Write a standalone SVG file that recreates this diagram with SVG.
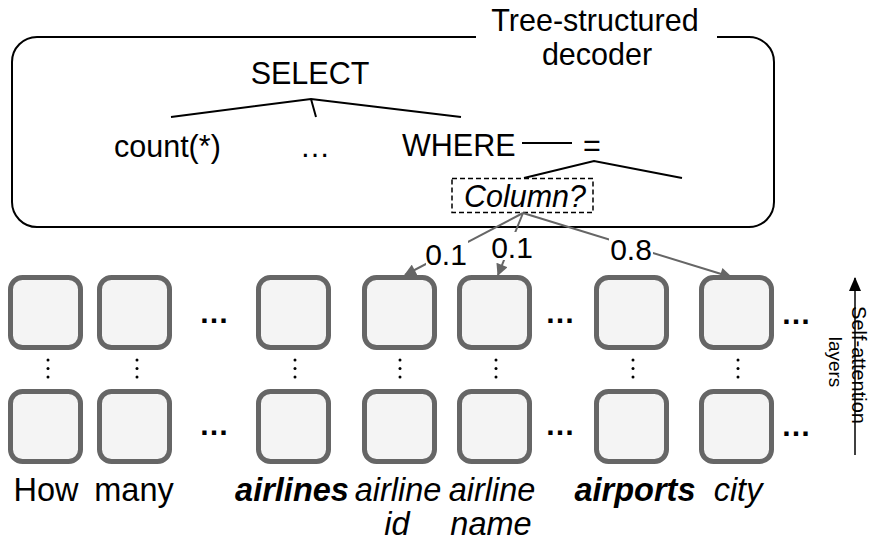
<svg xmlns="http://www.w3.org/2000/svg" width="872" height="546" viewBox="0 0 872 546">
<defs>
<style>
text{font-family:"Liberation Sans",Arial,Helvetica,sans-serif;fill:#000}
.t{font-size:30.5px}
.lbl{font-size:32.5px;text-anchor:middle}
.num{font-size:30px;text-anchor:middle}
.tree{stroke:#000;stroke-width:2;fill:none}
.cell{fill:#f4f4f4;stroke:#666;stroke-width:5}
.att{stroke:#666;stroke-width:2;fill:none;marker-end:url(#ga)}
.dot{fill:#000}
.ell{font-size:30px;text-anchor:middle;font-weight:bold}
</style>
<marker id="ga" viewBox="0 0 10 10" refX="9" refY="5" markerWidth="6.5" markerHeight="6" orient="auto" markerUnits="strokeWidth">
<path d="M0,0 L10,5 L0,10 z" fill="#666"/>
</marker>
<marker id="ka" viewBox="0 0 14 12" refX="13" refY="6" markerWidth="14" markerHeight="12" orient="auto" markerUnits="userSpaceOnUse">
<path d="M0,0 L14,6 L0,12 z" fill="#000"/>
</marker>
</defs>

<g id="decoder">
<path class="tree" d="M476,37 H37 A25,25 0 0 0 12,62 V202 A25,25 0 0 0 37,227 H749 A25,25 0 0 0 774,202 V62 A25,25 0 0 0 749,37 H717"/>
<text class="t" x="595" y="31" text-anchor="middle">Tree-structured</text>
<text class="t" x="597" y="65" text-anchor="middle">decoder</text>
</g>

<g id="select">
<text class="t" x="310" y="84" text-anchor="middle">SELECT</text>
</g>
<g id="count">
<text class="t" x="114" y="157">count(*)</text>
</g>
<g id="dots-mid">
<text class="t" x="315" y="157" text-anchor="middle">…</text>
</g>
<g id="where">
<text class="t" x="402" y="156">WHERE</text>
</g>
<g id="eq">
<text class="t" x="592" y="156" text-anchor="middle">=</text>
</g>
<g id="column">
<rect x="452" y="178.5" width="141" height="34" fill="none" stroke="#000" stroke-width="1.5" stroke-dasharray="5,3"/>
<text class="t" x="525" y="207" text-anchor="middle" font-style="italic">Column?</text>
</g>

<g id="tree-edges">
<path class="tree" d="M171,117 L311,99 L461,117 M311,99 L316,117"/>
<path class="tree" d="M522,143 H572"/>
<path class="tree" d="M524,178 L594,161 L682,178"/>
</g>

<g id="cells">
<g id="r1">
<rect class="cell" x="10.5" y="277.5" width="70" height="70" rx="12"/>
<rect class="cell" x="99.5" y="277.5" width="70" height="70" rx="12"/>
<rect class="cell" x="258.5" y="277.5" width="70" height="70" rx="12"/>
<rect class="cell" x="364.5" y="277.5" width="70" height="70" rx="12"/>
<rect class="cell" x="459.5" y="277.5" width="70" height="70" rx="12"/>
<rect class="cell" x="596.5" y="277.5" width="70" height="70" rx="12"/>
<rect class="cell" x="701.5" y="277.5" width="70" height="70" rx="12"/>
</g>
<g id="r2">
<rect class="cell" x="10.5" y="391.5" width="70" height="70" rx="12"/>
<rect class="cell" x="99.5" y="391.5" width="70" height="70" rx="12"/>
<rect class="cell" x="258.5" y="391.5" width="70" height="70" rx="12"/>
<rect class="cell" x="364.5" y="391.5" width="70" height="70" rx="12"/>
<rect class="cell" x="459.5" y="391.5" width="70" height="70" rx="12"/>
<rect class="cell" x="596.5" y="391.5" width="70" height="70" rx="12"/>
<rect class="cell" x="701.5" y="391.5" width="70" height="70" rx="12"/>
</g>
<g id="hdots">
<text class="ell" x="214" y="323">…</text>
<text class="ell" x="560" y="323">…</text>
<text class="ell" x="796" y="324">…</text>
<text class="ell" x="214" y="435">…</text>
<text class="ell" x="560" y="435">…</text>
<text class="ell" x="796" y="436">…</text>
</g>
<g id="vdots">
<circle class="dot" cx="48" cy="360" r="1.5"/><circle class="dot" cx="48" cy="368.5" r="1.5"/><circle class="dot" cx="48" cy="377" r="1.5"/>
<circle class="dot" cx="137" cy="360" r="1.5"/><circle class="dot" cx="137" cy="368.5" r="1.5"/><circle class="dot" cx="137" cy="377" r="1.5"/>
<circle class="dot" cx="295" cy="360" r="1.5"/><circle class="dot" cx="295" cy="368.5" r="1.5"/><circle class="dot" cx="295" cy="377" r="1.5"/>
<circle class="dot" cx="400" cy="360" r="1.5"/><circle class="dot" cx="400" cy="368.5" r="1.5"/><circle class="dot" cx="400" cy="377" r="1.5"/>
<circle class="dot" cx="496" cy="360" r="1.5"/><circle class="dot" cx="496" cy="368.5" r="1.5"/><circle class="dot" cx="496" cy="377" r="1.5"/>
<circle class="dot" cx="633" cy="360" r="1.5"/><circle class="dot" cx="633" cy="368.5" r="1.5"/><circle class="dot" cx="633" cy="377" r="1.5"/>
<circle class="dot" cx="738" cy="360" r="1.5"/><circle class="dot" cx="738" cy="368.5" r="1.5"/><circle class="dot" cx="738" cy="377" r="1.5"/>
</g>
</g>

<g id="connectors">
<path class="att" d="M523,213 L405,275"/>
<path class="att" d="M523,213 L498,275"/>
<path class="att" d="M523,213 L731,277"/>
<rect x="426" y="238" width="42" height="28" fill="#fff"/>
<rect x="491" y="232" width="42" height="28" fill="#fff"/>
<rect x="609" y="234" width="44" height="28" fill="#fff"/>
<text class="num" x="446" y="265">0.1</text>
<text class="num" x="512" y="258">0.1</text>
<text class="num" x="631" y="260">0.8</text>
</g>

<g id="words">
<text class="lbl" x="46" y="501">How</text>
<text class="lbl" x="134" y="501">many</text>
<text class="lbl" x="292" y="501" font-weight="bold" font-style="italic">airlines</text>
<text class="lbl" x="398" y="501" font-style="italic">airline</text>
<text class="lbl" x="397" y="535" font-style="italic">id</text>
<text class="lbl" x="492" y="501" font-style="italic">airline</text>
<text class="lbl" x="491" y="535" font-style="italic">name</text>
<text class="lbl" x="635" y="501" font-weight="bold" font-style="italic">airports</text>
<text class="lbl" x="738" y="501" font-style="italic">city</text>
</g>

<g id="side-label">
<path d="M855,455 V278" stroke="#000" stroke-width="1.5" fill="none" marker-end="url(#ka)"/>
<text transform="translate(852,365) rotate(90)" font-size="20" text-anchor="middle">Self-attention</text>
<text transform="translate(829,362) rotate(90)" font-size="19" text-anchor="middle">layers</text>
</g>
</svg>
